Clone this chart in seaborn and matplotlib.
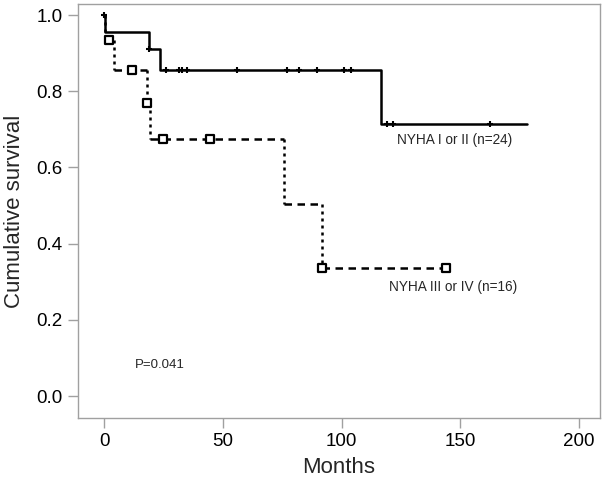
import numpy as np
import pandas as pd
import matplotlib
matplotlib.use("Agg")
import matplotlib.pyplot as plt
import seaborn as sns

# NYHA I or II (n=24): step curve and censored times
t_low = [0, 0.5, 19, 23.5, 116.5, 178]
s_low = [1.0, 0.955, 0.91, 0.857, 0.714, 0.714]
cens_low = [0, 19, 26, 31.5, 33, 35, 56, 77, 82, 89.5, 101, 104, 119, 121.5, 162.6]

# NYHA III or IV (n=16)
t_high = [0, 0.5, 4, 18, 19.3, 75.6, 91.6, 144]
s_high = [1.0, 0.935, 0.857, 0.769, 0.674, 0.505, 0.337, 0.337]
cens_high = [2, 11.8, 18, 25, 44.5, 91.6, 144]

x_ticks = [0, 50, 100, 150, 200]
y_ticks = [0.0, 0.2, 0.4, 0.6, 0.8, 1.0]


def surv_at(times, surv, t):
    # value of the step curve right after time t
    idx = np.searchsorted(times, t, side="right") - 1
    return surv[max(idx, 0)]


sns.set_theme(style="white")
plt.rcParams["font.family"] = ["Liberation Sans", "DejaVu Sans"]

fig = plt.figure(figsize=(6.02, 4.79), dpi=100)
ax = fig.add_axes([0.1296, 0.1273, 0.8671, 0.8643])

# solid curve
low_df = pd.DataFrame({"t": t_low, "s": s_low})
sns.lineplot(data=low_df, x="t", y="s", ax=ax, drawstyle="steps-post",
             color="black", lw=1.8, estimator=None, sort=False)
cl = pd.DataFrame({"t": cens_low, "s": [surv_at(t_low, s_low, c) for c in cens_low]})
sns.scatterplot(data=cl, x="t", y="s", ax=ax, marker="+", s=22,
                color="black", linewidth=1.5, zorder=4)

# dashed curve: horizontal dashes, vertical dots
for i in range(len(t_high) - 1):
    ax.plot([t_high[i], t_high[i + 1]], [s_high[i], s_high[i]], color="black",
            lw=1.8, dashes=(3, 2.2), dash_capstyle="butt")
    if s_high[i + 1] != s_high[i]:
        ax.plot([t_high[i + 1], t_high[i + 1]], [s_high[i], s_high[i + 1]],
                color="black", lw=1.8, dashes=(1.2, 1.6))
ch = pd.DataFrame({"t": cens_high, "s": [surv_at(t_high, s_high, c) for c in cens_high]})
sns.scatterplot(data=ch, x="t", y="s", ax=ax, marker="s", s=32,
                facecolor="white", edgecolor="black", linewidth=1.6, zorder=5)

ax.text(123.4, 0.672, "NYHA I or II (n=24)", fontsize=9.8, va="center")
ax.text(120, 0.286, "NYHA III or IV (n=16)", fontsize=9.8, va="center")
ax.text(13, 0.081, "P=0.041", fontsize=9.5, va="center")

ax.set_xlim(-10.95, 208.8)
ax.set_ylim(-0.0577, 1.0289)
ax.set_xticks(x_ticks)
ax.set_yticks(y_ticks)
ax.set_yticklabels([f"{v:.1f}" for v in y_ticks])
ax.set_xlabel("Months", fontsize=16, labelpad=5)
ax.set_ylabel("Cumulative survival", fontsize=16, labelpad=8)
ax.tick_params(axis="both", direction="out", length=7, width=1, color="#a0a0a0",
               labelsize=13.5, labelcolor="black", pad=4, bottom=True, left=True)
for sp in ax.spines.values():
    sp.set_color("#a0a0a0")
    sp.set_linewidth(1)

fig.savefig("out.png", dpi=100)
